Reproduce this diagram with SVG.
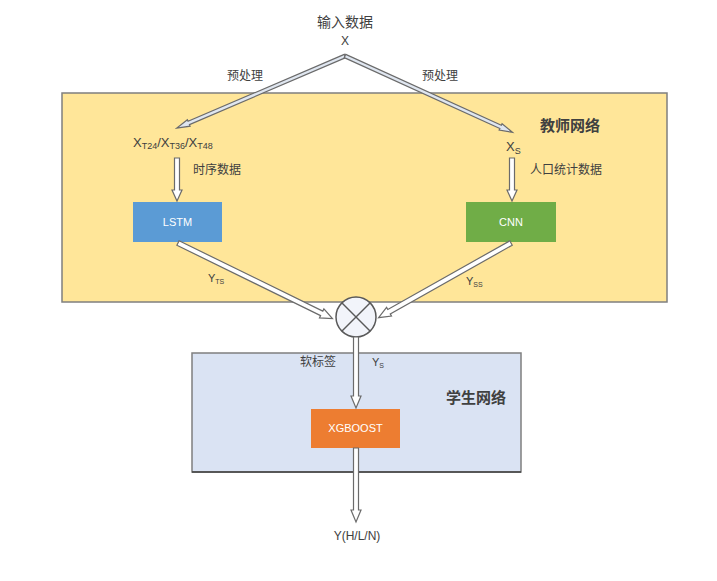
<svg xmlns="http://www.w3.org/2000/svg" width="717" height="581" viewBox="0 0 717 581">
<style>
text{font-family:"Liberation Sans","Noto Sans CJK SC",sans-serif;fill:#404040}
.cn{font-size:12px}
.title{font-size:15px;font-weight:bold}
.lbl{font-size:11px;fill:#ffffff}
.thin{fill:#dfe6f0;stroke:#6b6b6b;stroke-width:1.2}
.blk{fill:#ffffff;stroke:#6b6b6b;stroke-width:1.2}
</style>
<rect x="0" y="0" width="717" height="581" fill="#ffffff"/>
<g id="teacher">
<rect x="62" y="93" width="605" height="209" fill="#FFE699" stroke="#7f7f7f" stroke-width="1.5"/>
<text class="title" x="540" y="131">教师网络</text>
</g>
<g id="student">
<rect x="192" y="353" width="329" height="119" fill="#DAE3F3" stroke="#7f7f7f" stroke-width="1.5"/>
<line x1="192" y1="472" x2="521" y2="472" stroke="#404040" stroke-width="1.5"/>
<text class="title" x="446" y="403">学生网络</text>
</g>
<g id="input">
<text x="345" y="27" font-size="14" text-anchor="middle">输入数据</text>
<text x="345" y="45" font-size="12" text-anchor="middle">X</text>
</g>
<g id="xt">
<text x="133" y="147" font-size="13">X<tspan font-size="9" dy="2">T24</tspan><tspan dy="-2">/X</tspan><tspan font-size="9" dy="2">T36</tspan><tspan dy="-2">/X</tspan><tspan font-size="9" dy="2">T48</tspan></text>
</g>
<g id="xs">
<text x="506" y="151" font-size="13">X<tspan font-size="9" dy="3">S</tspan></text>
</g>
<g id="lstm">
<rect x="133" y="202" width="89" height="40" fill="#5B9BD5"/>
<text class="lbl" x="177.5" y="226" text-anchor="middle">LSTM</text>
</g>
<g id="cnn">
<rect x="466" y="202" width="90" height="40" fill="#70AD47"/>
<text class="lbl" x="511" y="226" text-anchor="middle">CNN</text>
</g>
<g id="xgboost">
<rect x="311" y="409" width="89" height="39" fill="#ED7D31"/>
<text class="lbl" x="355.5" y="432" text-anchor="middle">XGBOOST</text>
</g>
<g id="merge">
<circle cx="356" cy="317" r="20" fill="#f2f4fa" stroke="#595959" stroke-width="1.5"/>
<line x1="342" y1="303" x2="370" y2="331" stroke="#595959" stroke-width="1.5"/>
<line x1="370" y1="303" x2="342" y2="331" stroke="#595959" stroke-width="1.5"/>
</g>
<g id="output">
<text x="357" y="540" font-size="12" text-anchor="middle">Y(H/L/N)</text>
</g>
<g id="connectors">
<path class="thin" transform="translate(345,56) rotate(156.8)" d="M0,-1.8 L170,-1.8 L170,-3.5 L183,0 L170,3.5 L170,1.8 L0,1.8 Z"/>
<path class="thin" transform="translate(345,56) rotate(24.5)" d="M0,-1.8 L171,-1.8 L171,-3.5 L184,0 L171,3.5 L171,1.8 L0,1.8 Z"/>
<path class="blk" transform="translate(177,158) rotate(90)" d="M0,-2.5 L32,-2.5 L32,-5 L43,0 L32,5 L32,2.5 L0,2.5 Z"/>
<path class="blk" transform="translate(512,158) rotate(90)" d="M0,-2.5 L32,-2.5 L32,-5 L43,0 L32,5 L32,2.5 L0,2.5 Z"/>
<path class="blk" transform="translate(178,243) rotate(26.1)" d="M0,-2.5 L160,-2.5 L160,-5 L172,0 L160,5 L160,2.5 L0,2.5 Z"/>
<path class="blk" transform="translate(511,243) rotate(150.6)" d="M0,-2.5 L140,-2.5 L140,-5 L152,0 L140,5 L140,2.5 L0,2.5 Z"/>
<path class="blk" transform="translate(356,337) rotate(90)" d="M0,-2.5 L59,-2.5 L59,-5 L71,0 L59,5 L59,2.5 L0,2.5 Z"/>
<path class="blk" transform="translate(356,448) rotate(90)" d="M0,-2.5 L62,-2.5 L62,-5 L74,0 L62,5 L62,2.5 L0,2.5 Z"/>
<text class="cn" x="245" y="80" text-anchor="middle">预处理</text>
<text class="cn" x="440" y="80" text-anchor="middle">预处理</text>
<text class="cn" x="193" y="174">时序数据</text>
<text class="cn" x="530" y="174">人口统计数据</text>
<text x="208" y="282" font-size="11">Y<tspan font-size="7" dy="2">TS</tspan></text>
<text x="466" y="285" font-size="11">Y<tspan font-size="7" dy="2">SS</tspan></text>
<text class="cn" x="300" y="366">软标签</text>
<text x="372" y="366" font-size="11">Y<tspan font-size="7" dy="2">S</tspan></text>
</g>
</svg>
